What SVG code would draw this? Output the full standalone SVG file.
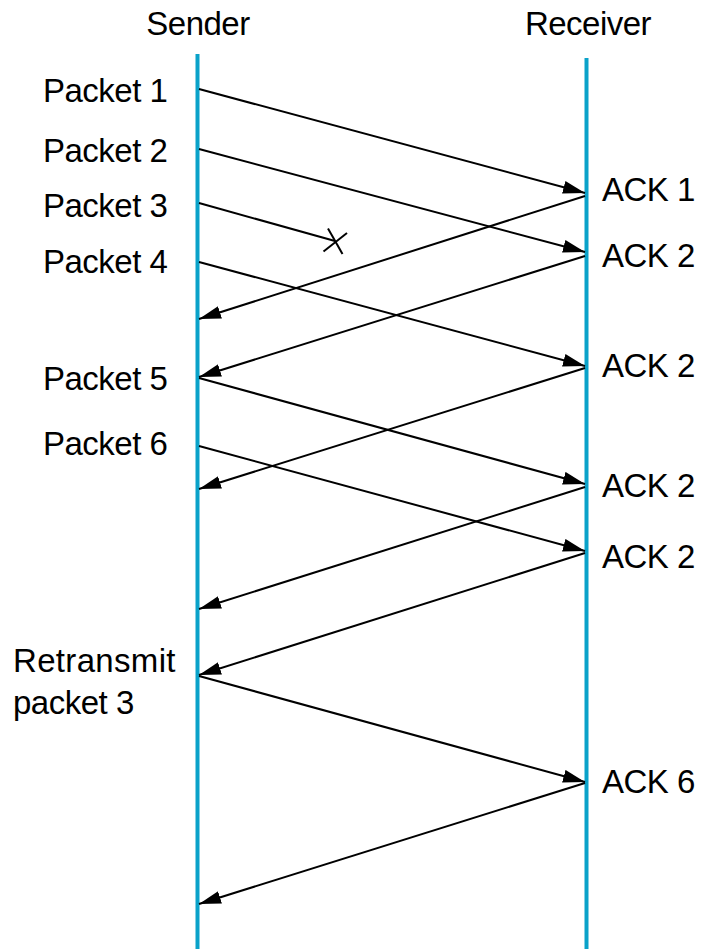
<svg xmlns="http://www.w3.org/2000/svg" width="704" height="949" viewBox="0 0 704 949">
<style>
.t{font-family:"Liberation Sans",Arial,sans-serif;font-size:33px;fill:#000;letter-spacing:-0.5px}
.life{stroke:#0aa2c9;stroke-width:4;fill:none}
.msg{stroke:#000;stroke-width:2;fill:none;marker-end:url(#ah)}
.x{stroke:#000;stroke-width:2;fill:none}
</style>
<defs>
<marker id="ah" viewBox="0 0 22 13" refX="22" refY="6.5" markerWidth="22" markerHeight="13" markerUnits="userSpaceOnUse" orient="auto">
<path d="M0,0 L22,6.5 L0,13 Z" fill="#000"/>
</marker>
</defs>
<rect width="704" height="949" fill="#fff"/>
<g id="sender">
<text class="t" x="198" y="35" text-anchor="middle">Sender</text>
<line class="life" x1="197.5" y1="54" x2="197.5" y2="949"/>
</g>
<g id="receiver">
<text class="t" x="588" y="35" text-anchor="middle">Receiver</text>
<line class="life" x1="586.5" y1="58" x2="586.5" y2="949"/>
</g>
<g id="sender-labels">
<text class="t" x="43" y="102">Packet 1</text>
<text class="t" x="43" y="162">Packet 2</text>
<text class="t" x="43" y="217">Packet 3</text>
<text class="t" x="43" y="273">Packet 4</text>
<text class="t" x="43" y="390">Packet 5</text>
<text class="t" x="43" y="455">Packet 6</text>
<text class="t" x="13" y="672" textLength="162" lengthAdjust="spacing">Retransmit</text>
<text class="t" x="13" y="714">packet 3</text>
</g>
<g id="receiver-labels">
<text class="t" x="602" y="201">ACK 1</text>
<text class="t" x="602" y="267">ACK 2</text>
<text class="t" x="602" y="377">ACK 2</text>
<text class="t" x="602" y="497">ACK 2</text>
<text class="t" x="602" y="568">ACK 2</text>
<text class="t" x="602" y="793">ACK 6</text>
</g>
<g id="connectors">
<line class="msg" x1="199" y1="89" x2="585" y2="193"/>
<line class="msg" x1="199" y1="149" x2="585" y2="252"/>
<line class="x" x1="199" y1="203" x2="335" y2="241"/>
<line class="msg" x1="199" y1="262" x2="585" y2="366"/>
<line class="msg" x1="199" y1="378" x2="585" y2="484"/>
<line class="msg" x1="199" y1="446" x2="585" y2="551"/>
<line class="msg" x1="199" y1="676" x2="585" y2="782"/>
<line class="msg" x1="585" y1="196" x2="199" y2="319"/>
<line class="msg" x1="585" y1="256" x2="199" y2="377"/>
<line class="msg" x1="585" y1="368" x2="199" y2="489"/>
<line class="msg" x1="585" y1="487" x2="199" y2="609"/>
<line class="msg" x1="585" y1="553" x2="199" y2="675"/>
<line class="msg" x1="585" y1="783" x2="199" y2="904"/>
</g>
<g id="loss-mark">
<line class="x" x1="328" y1="228.5" x2="342.5" y2="254"/>
<line class="x" x1="323.5" y1="251.5" x2="347" y2="233"/>
</g>
</svg>
